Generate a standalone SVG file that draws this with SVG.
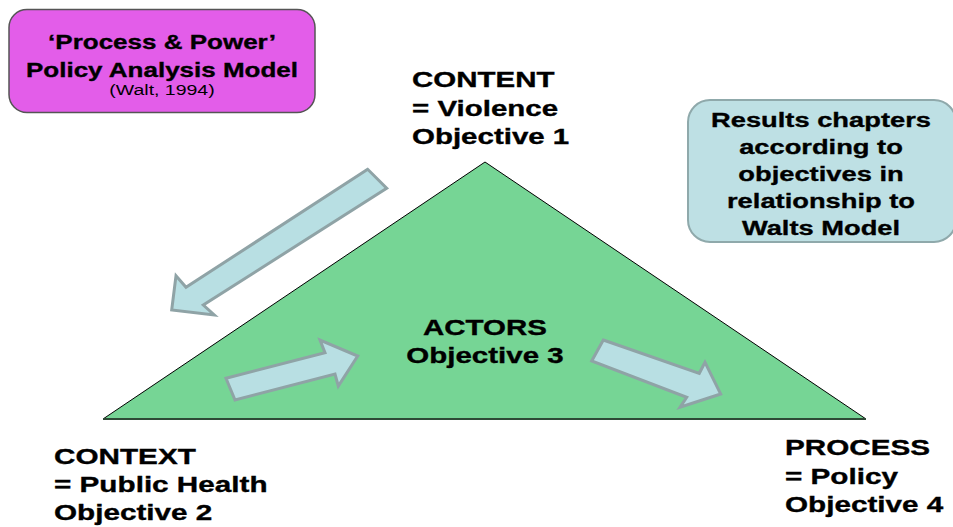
<svg xmlns="http://www.w3.org/2000/svg" width="953" height="527" viewBox="0 0 953 527">
<style>
.b{font-family:"Liberation Sans",Arial,sans-serif;font-weight:bold;font-size:22.5px;fill:#000;stroke:#000;stroke-width:0.35}
.bb{font-family:"Liberation Sans",Arial,sans-serif;font-weight:bold;font-size:20px;fill:#000;stroke:#000;stroke-width:0.35}
.bs{font-family:"Liberation Sans",Arial,sans-serif;font-size:15px;fill:#000}
.rb{font-family:"Liberation Sans",Arial,sans-serif;font-weight:bold;font-size:21px;fill:#000;stroke:#000;stroke-width:0.35}
.arrow{fill:#B8DFE3;stroke:#8FA3A6;stroke-width:3;stroke-linejoin:miter}
</style>
<rect width="953" height="527" fill="#fff"/>
<g id="triangle">
<polygon points="485,162 103,419 866,419" fill="#76D595" stroke="#000" stroke-width="1"/>
<line x1="103" y1="419" x2="866" y2="419" stroke="#2E4A36" stroke-width="2"/>
</g>
<g id="model-box">
<rect x="9" y="9.5" width="306" height="103" rx="18" fill="#E35DE9" stroke="#555" stroke-width="1.5"/>
<g transform="translate(162,0) scale(1.3,1)" text-anchor="middle">
<text class="bb" x="0" y="49">‘Process &amp; Power’</text>
<text class="bb" x="0" y="77">Policy Analysis Model</text>
<text class="bs" x="0" y="95">(Walt, 1994)</text>
</g>
</g>
<g id="results-box">
<rect x="688" y="100" width="268" height="142" rx="22" fill="#BEE0E4" stroke="#8FA9AB" stroke-width="2"/>
<g transform="translate(821,0) scale(1.3,1)" text-anchor="middle">
<text class="rb" x="0" y="127">Results chapters</text>
<text class="rb" x="0" y="154">according to</text>
<text class="rb" x="0" y="181">objectives in</text>
<text class="rb" x="0" y="208">relationship to</text>
<text class="rb" x="0" y="235">Walts Model</text>
</g>
</g>
<g id="content" transform="translate(412,87) scale(1.31,1)">
<text class="b" x="0" y="0">CONTENT</text>
<text class="b" x="0" y="29">= Violence</text>
<text class="b" x="0" y="57">Objective 1</text>
</g>
<g id="actors" transform="translate(485,335) scale(1.31,1)" text-anchor="middle">
<text class="b" x="0" y="0">ACTORS</text>
<text class="b" x="0" y="28">Objective 3</text>
</g>
<g id="context" transform="translate(54,464) scale(1.32,1)">
<text class="b" x="0" y="0">CONTEXT</text>
<text class="b" x="0" y="28">= Public Health</text>
<text class="b" x="0" y="56">Objective 2</text>
</g>
<g id="process" transform="translate(785,455) scale(1.32,1)">
<text class="b" x="0" y="0">PROCESS</text>
<text class="b" x="0" y="29">= Policy</text>
<text class="b" x="0" y="57">Objective 4</text>
</g>
<g id="connectors">
<polygon class="arrow" points="367.7,169.3 186,287.3 176,275.7 171.7,310 214.3,315 203.3,305 386.7,188.3"/>
<polygon class="arrow" points="226,378.3 325,352.7 320,340 357.7,356 338.3,386 335,374 235,400"/>
<polygon class="arrow" points="603.3,340 699.3,373.3 705,362.3 720.7,394 680,407.3 686.7,397.3 591.7,361"/>
</g>
</svg>
